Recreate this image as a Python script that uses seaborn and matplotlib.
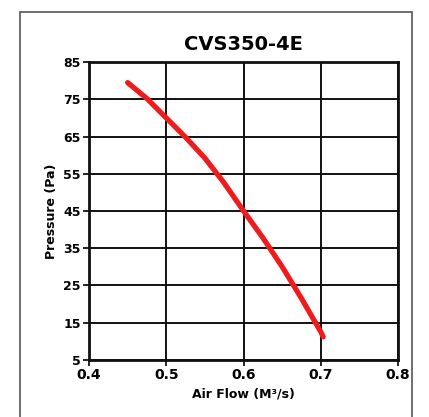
import numpy as np
import pandas as pd
import seaborn as sns
import matplotlib
matplotlib.use("Agg")
import matplotlib.pyplot as plt
from matplotlib.patches import Rectangle

# curve
air_flow = [0.45, 0.475, 0.5, 0.525, 0.55, 0.575, 0.6, 0.625, 0.65, 0.675, 0.7, 0.703]
pressure = [79.5, 75.2, 70.0, 64.8, 59.2, 52.5, 45.0, 37.8, 30.0, 21.5, 12.5, 11.2]
x_ticks = [0.4, 0.5, 0.6, 0.7, 0.8]
y_ticks = [5, 15, 25, 35, 45, 55, 65, 75, 85]

df = pd.DataFrame({"flow": air_flow, "pressure": pressure})

sns.set_theme(style="white")
plt.rcParams['font.family'] = ['DejaVu Sans']
plt.rcParams['text.color'] = 'black'
plt.rcParams['xtick.color'] = 'black'
plt.rcParams['ytick.color'] = 'black'
plt.rcParams['axes.labelcolor'] = 'black'

fig = plt.figure(figsize=(4.29, 4.17), dpi=100)
ax = fig.add_axes([0.2075, 0.137, 0.7205, 0.714])

# outer frame
fig.patches.append(Rectangle((20 / 429, -0.01), 392 / 429, 1 - 12 / 417 + 0.01,
                             transform=fig.transFigure, fill=False,
                             edgecolor="#555555", linewidth=1.2))

sns.lineplot(data=df, x="flow", y="pressure", color="#ee1c1c", linewidth=3.8,
             solid_capstyle="round", ax=ax, zorder=5)

ax.set_xlim(0.4, 0.8)
ax.set_ylim(5, 85)
ax.set_xticks(x_ticks)
ax.set_yticks(y_ticks)
ax.set_xticklabels([str(v) for v in x_ticks], fontsize=10, fontweight="bold")
ax.set_yticklabels([str(v) for v in y_ticks], fontsize=9, fontweight="bold")
ax.grid(True, color="#111111", linewidth=1.4)
ax.tick_params(axis="both", length=4, width=1.2, color="black", direction="out",
               bottom=True, left=True, pad=2)
for sp in ax.spines.values():
    sp.set_color("#111111")
    sp.set_linewidth(2)

ax.set_xlabel("Air Flow (M³/s)", fontsize=9, fontweight="bold", labelpad=4)
ax.set_ylabel("Pressure (Pa)", fontsize=9, fontweight="bold", labelpad=4)
ax.set_title("CVS350-4E", fontsize=14, fontweight="bold", pad=9)

fig.savefig("out.png", dpi=100)
